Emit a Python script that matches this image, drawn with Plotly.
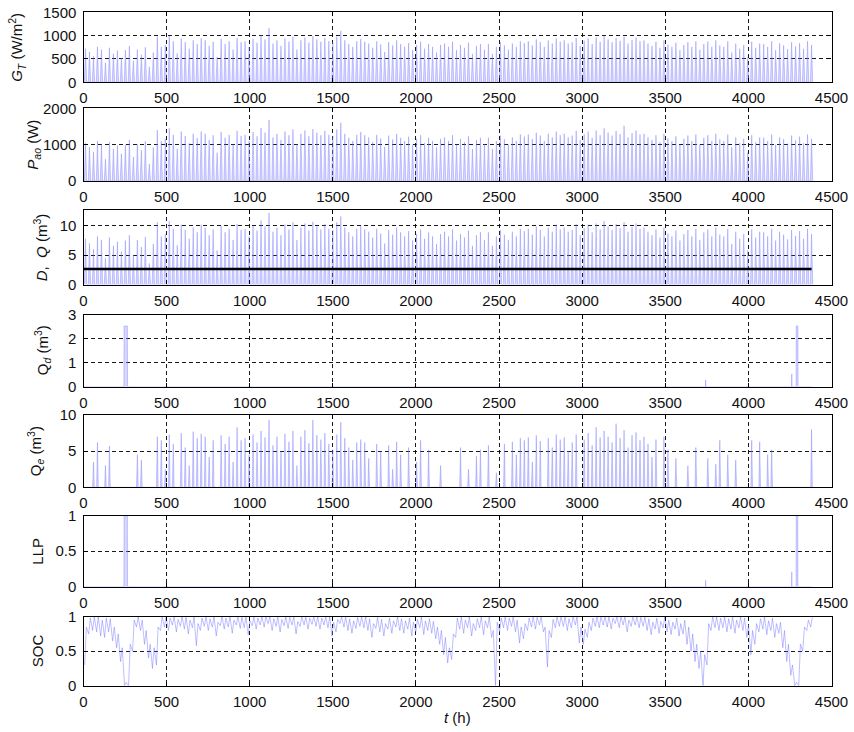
import plotly.graph_objects as go

# ---------------------------------------------------------------------------
# Half-year hourly simulation of a PV water-pumping system, summarised per day.
# Day index d covers hours 24*d .. 24*d+23 (183 days, t = 0 .. 4380 h).
# ---------------------------------------------------------------------------

# Daily peak solar irradiance on the array plane, G_T (W/m^2)
g_peak = [
    720, 650, 560, 760, 700, 420, 740, 610, 680, 520,
    690, 780, 460, 700, 590, 750, 330, 640, 980, 760,
    800, 1000, 880, 620, 940, 860, 720, 900, 820, 940,
    900, 780, 870, 540, 930, 820, 880, 700, 950, 860,
    880, 760, 930, 850, 1010, 920, 1160, 830, 900, 780,
    940, 870, 980, 700, 900, 960, 850, 990, 920, 870,
    950, 880, 860, 980, 1100, 900, 820, 760, 880, 930,
    870, 830, 740, 880, 810, 650, 860, 790, 900, 820,
    760, 840, 690, 800, 870, 720, 820, 760, 640, 800,
    830, 760, 870, 690, 800, 740, 850, 610, 780, 820,
    700, 820, 610, 760, 860, 790, 700, 830, 760, 880,
    840, 880, 790, 920, 860, 760, 900, 830, 940, 870,
    900, 830, 860, 950, 780, 890, 940, 820, 960, 870,
    1000, 920, 860, 950, 890, 980, 830, 910, 960, 880,
    900, 830, 780, 870, 740, 900, 810, 760, 850, 690,
    800, 860, 760, 880, 700, 820, 870, 760, 900, 790,
    760, 880, 640, 830, 720, 800, 540, 870, 740, 830,
    820, 760, 880, 690, 830, 790, 710, 860, 770, 840, 720, 880, 800,
]

# Daily peak array output power, P_ao (W)
p_peak = [
    1040, 930, 800, 1100, 1010, 600, 1070, 880, 980, 750,
    1000, 1130, 660, 1010, 850, 1090, 470, 920, 1400, 1100,
    1160, 1450, 1270, 890, 1360, 1240, 1040, 1300, 1180, 1360,
    1300, 1130, 1260, 780, 1350, 1190, 1270, 1010, 1380, 1240,
    1270, 1100, 1350, 1230, 1460, 1330, 1680, 1200, 1300, 1130,
    1360, 1260, 1420, 1010, 1300, 1390, 1230, 1430, 1330, 1260,
    1380, 1270, 1240, 1420, 1600, 1300, 1190, 1100, 1270, 1350,
    1260, 1200, 1070, 1270, 1170, 940, 1250, 1140, 1300, 1190,
    1100, 1220, 1000, 1160, 1260, 1040, 1190, 1100, 930, 1160,
    1200, 1100, 1260, 1000, 1160, 1070, 1230, 880, 1130, 1190,
    1010, 1190, 880, 1100, 1250, 1150, 1010, 1200, 1100, 1280,
    1220, 1280, 1150, 1330, 1250, 1100, 1300, 1200, 1360, 1260,
    1300, 1200, 1250, 1380, 1130, 1290, 1360, 1190, 1390, 1260,
    1450, 1330, 1250, 1380, 1290, 1520, 1200, 1320, 1390, 1280,
    1300, 1200, 1130, 1260, 1070, 1300, 1170, 1100, 1230, 1000,
    1160, 1250, 1100, 1280, 1010, 1190, 1260, 1100, 1300, 1150,
    1100, 1280, 930, 1200, 1040, 1160, 780, 1260, 1070, 1200,
    1190, 1100, 1280, 1000, 1200, 1150, 1030, 1250, 1120, 1220, 1040, 1280, 1160,
]

# Daily peak pumped water flow, D (m^3)
d_peak = [
    7.8, 7.0, 6.0, 8.2, 7.6, 4.5, 8.0, 6.6, 7.3, 5.6,
    7.5, 8.4, 5.0, 7.6, 6.4, 8.1, 3.6, 6.9, 10.6, 8.2,
    8.6, 10.8, 9.5, 6.7, 10.2, 9.3, 7.8, 9.7, 8.9, 10.2,
    9.7, 8.4, 9.4, 5.8, 10.0, 8.9, 9.5, 7.6, 10.3, 9.3,
    9.5, 8.2, 10.0, 9.2, 10.9, 9.9, 12.2, 9.0, 9.7, 8.4,
    10.2, 9.4, 10.6, 7.6, 9.7, 10.4, 9.2, 10.7, 9.9, 9.4,
    10.3, 9.5, 9.3, 10.6, 11.6, 9.7, 8.9, 8.2, 9.5, 10.0,
    9.4, 9.0, 8.0, 9.5, 8.7, 7.0, 9.3, 8.5, 9.7, 8.9,
    8.2, 9.1, 7.5, 8.6, 9.4, 7.8, 8.9, 8.2, 6.9, 8.6,
    9.0, 8.2, 9.4, 7.5, 8.6, 8.0, 9.2, 6.6, 8.4, 8.9,
    7.6, 8.9, 6.6, 8.2, 9.3, 8.5, 7.6, 9.0, 8.2, 9.5,
    9.1, 9.5, 8.5, 9.9, 9.3, 8.2, 9.7, 9.0, 10.2, 9.4,
    9.7, 9.0, 9.3, 10.3, 8.4, 9.6, 10.2, 8.9, 10.4, 9.4,
    10.8, 9.9, 9.3, 10.3, 9.6, 10.6, 9.0, 9.8, 10.4, 9.5,
    9.7, 9.0, 8.4, 9.4, 8.0, 9.7, 8.7, 8.2, 9.2, 7.5,
    8.6, 9.3, 8.2, 9.5, 7.6, 8.9, 9.4, 8.2, 9.7, 8.5,
    8.2, 9.5, 6.9, 9.0, 7.8, 8.6, 5.8, 9.4, 8.0, 9.0,
    8.9, 8.2, 9.5, 7.5, 9.0, 8.5, 7.7, 9.3, 8.3, 9.1, 7.8, 9.5, 8.6,
]

# Hourly water demand, Q (m^3), constant over the period
q_demand = 2.65

# Daily peak excess water, Q_e (m^3)
qe_peak = [
    0, 0, 3.5, 6.2, 0, 3.0, 5.7, 0, 0, 0,
    0, 0, 0, 4.5, 3.8, 0, 0, 0, 7.0, 6.5,
    2.5, 7.3, 6.0, 0, 7.5, 5.5, 3.0, 7.7, 6.8, 7.4,
    7.0, 4.2, 6.5, 0, 7.2, 6.0, 7.0, 3.5, 8.3, 6.5,
    6.8, 4.5, 7.3, 6.2, 7.8, 6.9, 9.3, 5.8, 7.0, 5.0,
    7.4, 6.3, 7.8, 3.0, 7.0, 7.9, 6.1, 9.3, 7.2, 6.6,
    7.5, 6.0, 5.2, 7.3, 9.0, 6.8, 5.5, 3.8, 6.2, 6.6,
    6.2, 4.0, 0, 6.0, 5.0, 0, 5.8, 2.5, 6.3, 4.5,
    0, 5.5, 0, 3.5, 6.5, 0, 5.2, 0, 0, 3.0,
    0, 0, 0, 0, 5.5, 0, 2.5, 0, 4.3, 5.2,
    0, 5.8, 0, 2.0, 0, 6.0, 0, 6.3, 4.5, 6.8,
    6.5, 6.9, 3.5, 7.2, 6.4, 0, 6.8, 5.5, 7.3, 6.6,
    6.9, 5.0, 6.2, 7.3, 0, 6.6, 7.5, 5.8, 8.3, 6.9,
    7.8, 7.0, 6.2, 8.8, 6.8, 7.9, 5.5, 7.2, 7.6, 6.5,
    7.0, 6.0, 4.2, 6.6, 0, 7.0, 5.2, 0, 4.0, 0,
    0, 3.0, 0, 5.5, 0, 0, 4.0, 0, 3.2, 6.5,
    0, 4.5, 0, 3.8, 0, 0, 0, 6.5, 0, 6.3,
    0, 4.5, 5.2, 0, 0, 0, 0, 0, 0, 0, 0, 0, 8.0,
]

# Water deficit Q_d (m^3) and loss of load probability, hour by hour
qd_hours = [0, 243, 244, 264, 265, 3742, 3743, 3744, 4260, 4261, 4262, 4287, 4288, 4298, 4299, 4380]
qd_value = [0, 0, 2.53, 2.53, 0, 0, 0.28, 0, 0, 0.53, 0, 0, 2.53, 2.53, 0, 0]
llp_hours = [0, 243, 244, 264, 265, 3742, 3743, 3744, 4260, 4261, 4262, 4287, 4288, 4297, 4298, 4380]
llp_value = [0, 0, 1, 1, 0, 0, 0.09, 0, 0, 0.21, 0, 0, 1, 1, 0, 0]

# Battery state of charge: daily low (early morning) and high (late afternoon)
soc_low = [
    0.30, 0.75, 0.80, 0.78, 0.72, 0.70, 0.78, 0.65, 0.55, 0.35,
    0.00, 0.00, 0.50, 0.85, 0.80, 0.60, 0.40, 0.25, 0.30, 0.80,
    0.85, 0.80, 0.88, 0.78, 0.86, 0.82, 0.75, 0.84, 0.58, 0.80,
    0.86, 0.80, 0.85, 0.72, 0.87, 0.82, 0.85, 0.76, 0.88, 0.83,
    0.84, 0.74, 0.87, 0.82, 0.88, 0.85, 0.90, 0.80, 0.86, 0.78,
    0.87, 0.83, 0.88, 0.75, 0.86, 0.88, 0.82, 0.89, 0.86, 0.82,
    0.88, 0.84, 0.72, 0.78, 0.90, 0.85, 0.80, 0.76, 0.83, 0.86,
    0.84, 0.80, 0.70, 0.83, 0.78, 0.72, 0.82, 0.76, 0.85, 0.80,
    0.76, 0.82, 0.72, 0.78, 0.84, 0.74, 0.80, 0.76, 0.68, 0.60,
    0.45, 0.33, 0.38, 0.70, 0.82, 0.76, 0.84, 0.72, 0.80, 0.84,
    0.74, 0.84, 0.70, 0.00, 0.78, 0.84, 0.80, 0.86, 0.78, 0.62,
    0.68, 0.80, 0.85, 0.82, 0.88, 0.78, 0.27, 0.70, 0.84, 0.86,
    0.86, 0.80, 0.84, 0.88, 0.62, 0.60, 0.70, 0.80, 0.86, 0.84,
    0.88, 0.85, 0.82, 0.90, 0.84, 0.88, 0.78, 0.86, 0.88, 0.84,
    0.86, 0.80, 0.74, 0.82, 0.76, 0.84, 0.78, 0.74, 0.82, 0.72,
    0.75, 0.60, 0.50, 0.35, 0.25, 0.00, 0.30, 0.80, 0.84, 0.80,
    0.84, 0.78, 0.82, 0.76, 0.84, 0.80, 0.70, 0.45, 0.60, 0.78,
    0.82, 0.74, 0.80, 0.70, 0.76, 0.55, 0.35, 0.15, 0.00, 0.00, 0.50, 0.80, 0.85,
]
soc_high = [
    0.85, 0.98, 1.00, 1.00, 0.95, 0.98, 0.97, 0.85, 0.75, 0.55,
    0.05, 0.60, 0.95, 1.00, 0.95, 0.80, 0.60, 0.55, 0.85, 1.00,
    1.00, 0.98, 1.00, 0.96, 1.00, 0.99, 0.95, 1.00, 0.90, 0.98,
    1.00, 0.97, 1.00, 0.92, 1.00, 0.98, 1.00, 0.95, 1.00, 0.99,
    1.00, 0.94, 1.00, 0.98, 1.00, 1.00, 1.00, 0.97, 1.00, 0.96,
    1.00, 0.99, 1.00, 0.93, 1.00, 1.00, 0.98, 1.00, 1.00, 0.98,
    1.00, 1.00, 0.92, 0.96, 1.00, 1.00, 0.97, 0.94, 0.99, 1.00,
    1.00, 0.97, 0.90, 0.99, 0.96, 0.90, 0.98, 0.94, 1.00, 0.97,
    0.94, 0.98, 0.92, 0.96, 1.00, 0.94, 0.97, 0.93, 0.85, 0.80,
    0.70, 0.55, 0.75, 0.98, 1.00, 0.95, 1.00, 0.90, 0.97, 1.00,
    0.94, 1.00, 0.80, 0.92, 0.98, 1.00, 0.98, 1.00, 0.95, 0.85,
    0.90, 0.98, 1.00, 0.99, 1.00, 0.85, 0.80, 0.96, 1.00, 1.00,
    1.00, 0.97, 1.00, 1.00, 0.85, 0.82, 0.92, 0.98, 1.00, 1.00,
    1.00, 1.00, 0.98, 1.00, 1.00, 1.00, 0.95, 1.00, 1.00, 0.99,
    1.00, 0.97, 0.92, 0.98, 0.93, 1.00, 0.95, 0.92, 0.98, 0.90,
    0.95, 0.85, 0.75, 0.60, 0.50, 0.45, 0.90, 1.00, 1.00, 0.98,
    1.00, 0.97, 1.00, 0.95, 1.00, 0.98, 0.88, 0.80, 0.90, 0.97,
    1.00, 0.94, 0.98, 0.90, 0.92, 0.80, 0.60, 0.30, 0.05, 0.60, 0.85, 0.95, 1.00,
]

# Axis ticks
x_ticks = [0, 500, 1000, 1500, 2000, 2500, 3000, 3500, 4000, 4500]
y_ticks = [
    [0, 500, 1000, 1500],
    [0, 1000, 2000],
    [0, 5, 10],
    [0, 1, 2, 3],
    [0, 5, 10],
    [0, 0.5, 1],
    [0, 0.5, 1],
]
y_tick_text = [
    ["0", "500", "1000", "1500"],
    ["0", "1000", "2000"],
    ["0", "5", "10"],
    ["0", "1", "2", "3"],
    ["0", "5", "10"],
    ["0", "0.5", "1"],
    ["0", "0.5", "1"],
]
y_ranges = [[0, 1500], [0, 2000], [0, 12.7], [0, 3], [0, 10], [0, 1], [0, 1]]
y_titles = [
    "<i>G</i><sub><i>T</i></sub> (W/m<sup>2</sup>)",
    "<i>P</i><sub><i>ao</i></sub> (W)",
    "<i>D</i>,  <i>Q</i> (m<sup>3</sup>)",
    "Q<sub><i>d</i></sub> (m<sup>3</sup>)",
    "Q<sub><i>e</i></sub> (m<sup>3</sup>)",
    "LLP",
    "SOC",
]

# ---------------------------------------------------------------------------
# Page geometry (pixels in an 854 x 732 page)
# ---------------------------------------------------------------------------
W, H = 854, 732
PLOT_LEFT, PLOT_RIGHT = 83.5, 831.5
panel_px = [
    (12.3, 82.3), (108.3, 181.0), (210.0, 284.5), (314.7, 386.7),
    (415.0, 487.3), (515.7, 586.7), (616.7, 685.7),
]
title_x_px = [16.5, 34.0, 40.0, 42.5, 35.0, 37.5, 37.0]

FONT = "Liberation Sans, Arial, Helvetica, sans-serif"
LINE_BLUE = "rgba(110,110,255,0.5)"
FILL_BLUE = "rgba(150,150,255,0.38)"


def daily_spikes(peaks, start_hour, mid_hour, end_hour):
    xs, ys = [], []
    for day, peak in enumerate(peaks):
        base = 24 * day
        xs += [base + start_hour, base + mid_hour, base + end_hour]
        ys += [0, peak, 0]
    return xs, ys


def soc_series(low, high):
    xs, ys = [], []
    for day, (lo, hi) in enumerate(zip(low, high)):
        xs += [24 * day + 7, 24 * day + 17]
        ys += [lo, hi]
    return xs, ys


fig = go.Figure()


def add_area(x, y, panel):
    fig.add_trace(go.Scatter(
        x=x, y=y, mode="lines", xaxis=f"x{panel}", yaxis=f"y{panel}",
        line=dict(color=LINE_BLUE, width=0.7), fill="tozeroy",
        fillcolor=FILL_BLUE, hoverinfo="skip", showlegend=False,
    ))


gx, gy = daily_spikes(g_peak, 5, 12, 19)
add_area(gx, gy, 1)
px_, py_ = daily_spikes(p_peak, 5, 12, 19)
add_area(px_, py_, 2)
dx, dy = daily_spikes(d_peak, 5, 12, 19)
add_area(dx, dy, 3)

last_hour = 24 * (len(g_peak) - 1) + 12
fig.add_trace(go.Scatter(
    x=[0, last_hour], y=[q_demand, q_demand], mode="lines",
    xaxis="x3", yaxis="y3", line=dict(color="black", width=2.5),
    hoverinfo="skip", showlegend=False,
))

add_area(qd_hours, qd_value, 4)
ex, ey = daily_spikes(qe_peak, 7, 12, 17)
add_area(ex, ey, 5)
add_area(llp_hours, llp_value, 6)

sx, sy = soc_series(soc_low, soc_high)
fig.add_trace(go.Scatter(
    x=sx, y=sy, mode="lines", xaxis="x7", yaxis="y7",
    line=dict(color="rgba(110,110,255,0.5)", width=0.9),
    hoverinfo="skip", showlegend=False,
))

layout = dict(
    width=W, height=H,
    margin=dict(l=0, r=0, t=0, b=0, pad=0, autoexpand=False),
    paper_bgcolor="white", plot_bgcolor="white",
    font=dict(family=FONT, size=15, color="#111"),
    showlegend=False,
)

grid_common = dict(
    showgrid=True, gridcolor="rgba(0,0,0,0.9)", gridwidth=1, griddash="4px,3px",
    zeroline=False, showline=True, linecolor="black", linewidth=1.2,
    mirror="ticks", ticks="inside", ticklen=4, tickcolor="black",
    tickfont=dict(family=FONT, size=15, color="#111"),
    automargin=False,
)

annotations = []
for i, (top, bottom) in enumerate(panel_px, start=1):
    y0 = 1 - bottom / H
    y1 = 1 - top / H
    layout[f"xaxis{i}"] = dict(
        domain=[PLOT_LEFT / W, PLOT_RIGHT / W], anchor=f"y{i}",
        range=[0, 4500], tickvals=x_ticks, ticktext=[str(v) for v in x_ticks],
        ticklabelstandoff=2, **grid_common,
    )
    layout[f"yaxis{i}"] = dict(
        domain=[y0, y1], anchor=f"x{i}", range=y_ranges[i - 1],
        tickvals=y_ticks[i - 1], ticktext=y_tick_text[i - 1],
        ticklabelstandoff=3, **grid_common,
    )
    annotations.append(dict(
        text=y_titles[i - 1], textangle=-90, showarrow=False,
        xref="paper", yref="paper",
        x=title_x_px[i - 1] / W, y=1 - (top + bottom) / 2 / H,
        xanchor="center", yanchor="middle",
        font=dict(family=FONT, size=15, color="#111"),
    ))

annotations.append(dict(
    text="<i>t</i> (h)", showarrow=False, xref="paper", yref="paper",
    x=(PLOT_LEFT + PLOT_RIGHT) / 2 / W, y=1 - 717 / H,
    xanchor="center", yanchor="middle",
    font=dict(family=FONT, size=15, color="#111"),
))
layout["annotations"] = annotations

fig.update_layout(**layout)
fig.write_html("out.html")
